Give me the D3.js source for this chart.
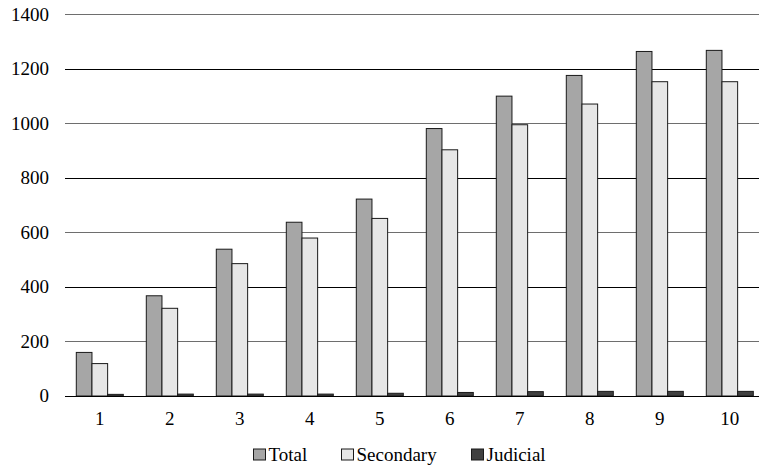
<!DOCTYPE html>
<html><head><meta charset="utf-8">
<script src="https://cdn.jsdelivr.net/npm/d3@7"></script>
</head><body style="margin:0">
<script>
const categories = ["1","2","3","4","5","6","7","8","9","10"];
const seriesNames = ["Total","Secondary","Judicial"];
const totalValues = [160,368,539,638,723,982,1101,1177,1265,1269];
const secondaryValues = [119,322,486,580,652,904,996,1072,1154,1154];
const judicialValues = [6,7,7,7,10,13,16,17,17,17];
const yTicks = [0,200,400,600,800,1000,1200,1400];
const colors = ["#a6a6a6","#e6e6e6","#404040"];

const W = 759, H = 472;
const font = '"Liberation Serif"';
const svg = d3.select("body").append("svg").attr("width",W).attr("height",H)
  .style("display","block").style("font-family",font);

const y = d3.scaleLinear().domain([0,1400]).range([396,14.7]);
const x0 = d3.scaleBand().domain(categories).range([64.8,764.8]).paddingInner(23/70).paddingOuter(11.5/70);
const x1 = d3.scaleBand().domain(seriesNames).range([0,x0.bandwidth()]);

// gridlines
const grid = svg.append("g");
yTicks.forEach((t,i)=>{
  if (t===0) return;
  const yy = y(t);
  grid.append("line").attr("x1",65).attr("x2",759)
    .attr("y1",yy).attr("y2",yy)
    .attr("stroke", i%2===0 ? "#000" : "#6e6e6e")
    .attr("stroke-width", i%2===0 ? 1 : 1.4)
    .attr("shape-rendering", "crispEdges");
});

// bars
const data = categories.map((c,i)=>({c, vals:[totalValues[i],secondaryValues[i],judicialValues[i]]}));
const groups = svg.append("g").selectAll("g").data(data).join("g")
  .attr("transform",d=>`translate(${x0(d.c)},0)`);
groups.selectAll("rect").data(d=>d.vals.map((v,j)=>({s:seriesNames[j],v,j}))).join("rect")
  .attr("x",d=>x1(d.s)).attr("width",x1.bandwidth())
  .attr("y",d=>y(d.v)).attr("height",d=>y(0)-y(d.v))
  .attr("fill",d=>colors[d.j]).attr("stroke","#1a1a1a").attr("stroke-width",1);

// x axis line
svg.append("line").attr("x1",65).attr("x2",759).attr("y1",396.5).attr("y2",396.5)
  .attr("stroke","#000").attr("stroke-width",1);

// y tick labels
svg.append("g").selectAll("text").data(yTicks).join("text")
  .attr("x",49).attr("y",d=>y(d)).attr("dy","0.32em").attr("text-anchor","end")
  .style("font-family",font).style("font-size","19px").attr("fill","#000")
  .text(d3.format("d"));

// x tick labels
svg.append("g").selectAll("text").data(categories).join("text")
  .attr("x",d=>x0(d)+x0.bandwidth()/2).attr("y",425).attr("text-anchor","middle")
  .style("font-family",font).style("font-size","19px").attr("fill","#000")
  .text(d=>d);

// legend
const legendX = [253.5, 341.5, 471.5];
const lg = svg.append("g");
seriesNames.forEach((s,i)=>{
  lg.append("rect").attr("x",legendX[i]).attr("y",449).attr("width",12).attr("height",11)
    .attr("fill",colors[i]).attr("stroke","#1a1a1a").attr("stroke-width",1);
  lg.append("text").attr("x",legendX[i]+15).attr("y",461).text(s)
    .style("font-family",font).style("font-size","19px").attr("fill","#000");
});
</script>
</body></html>
